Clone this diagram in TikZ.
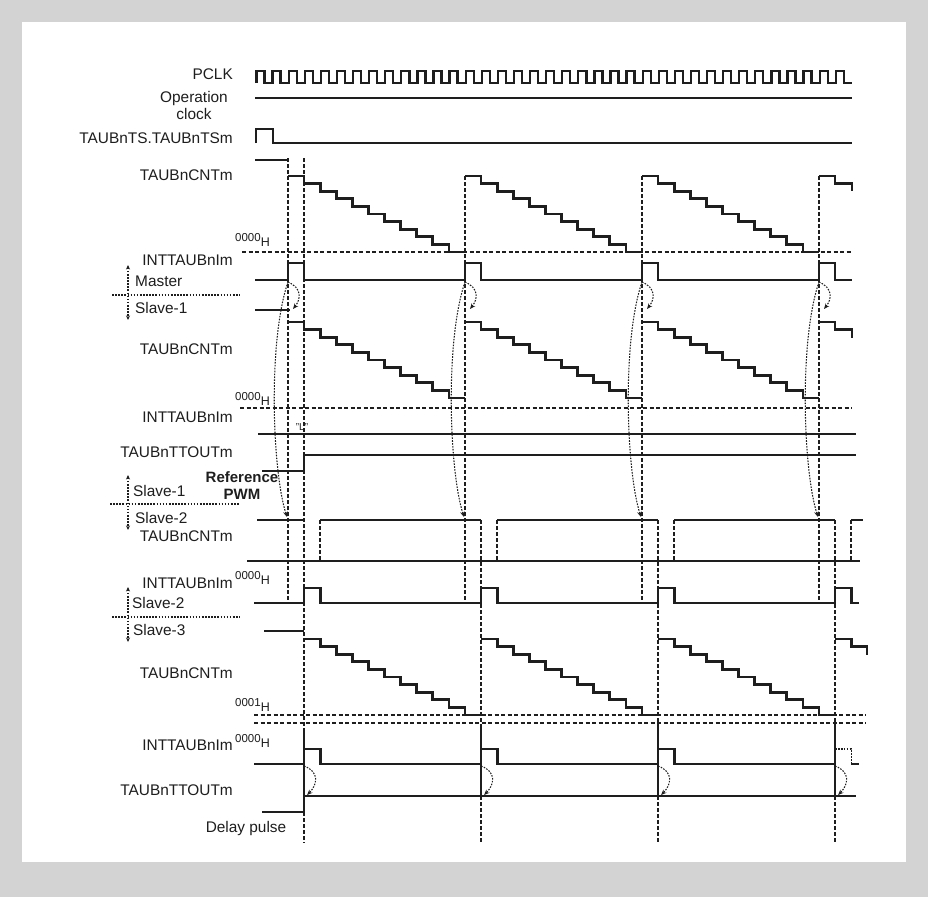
\documentclass[tikz,border=0pt]{standalone}
\usepackage{fontspec}
\setmainfont{Liberation Sans}
\usetikzlibrary{arrows.meta}
\definecolor{bggray}{HTML}{D3D3D3}
\definecolor{ink}{HTML}{1E1E1E}
\newcommand{\hexlbl}[1]{{\fontsize{11.5}{12}\selectfont #1}\raisebox{-5pt}{\fontsize{12.5}{13}\selectfont H}}
\begin{document}
\begin{tikzpicture}[x=1pt,y=-1pt,
  wave/.style={draw=ink,line width=2.7pt,line join=miter},
  vdash/.style={draw=ink,line width=1.9pt,dash pattern=on 3.5pt off 2.5pt},
  hdash/.style={draw=ink,line width=1.9pt,dash pattern=on 4pt off 2.5pt},
  curv/.style={draw=ink,line width=1.05pt,dash pattern=on 1.6pt off 1.3pt,-{Stealth[length=5.5pt,width=4.5pt]}},
  dotpulse/.style={draw=ink,line width=1.2pt,dash pattern=on 1.6pt off 1.3pt},
  lbl/.style={font=\fontsize{15.4}{17}\selectfont,inner sep=0pt,text=ink},
  sep/.style={draw=ink,line width=1.1pt,dash pattern=on 1.6pt off 1.5pt},
  vtip/.style={sep,{Stealth[length=4.5pt,width=4pt]}-{Stealth[length=4.5pt,width=4pt]}},
  ]
\def\W{16.09}
\def\P{177}
% background
\fill[bggray] (0,0) rectangle (928,897);
\fill[white] (22,22) rectangle (906,862);
\useasboundingbox (0,0) rectangle (928,897);

% ---------- labels ----------
\node[lbl,anchor=base east] (lpclk) at (233,79) {PCLK};
\node[lbl,anchor=base] (lop1) at (194,102) {Operation};
\node[lbl,anchor=base] (lop2) at (194,119) {clock};
\node[lbl,anchor=base east] (lts) at (233,143) {TAUBnTS.TAUBnTSm};
\node[lbl,anchor=base east] (lcnt1) at (233,180) {TAUBnCNTm};
\node[lbl,anchor=base west] (lz1) at (235,241) {\hexlbl{0000}};
\node[lbl,anchor=base east] (lint1) at (233,265) {INTTAUBnIm};
\node[lbl,anchor=base west] (lmas) at (135,286) {Master};
\node[lbl,anchor=base west] (ls1a) at (135,313) {Slave-1};
\node[lbl,anchor=base east] (lcnt2) at (233,354) {TAUBnCNTm};
\node[lbl,anchor=base west] (lz2) at (235,400) {\hexlbl{0000}};
\node[lbl,anchor=base east] (lint2) at (233,422) {INTTAUBnIm};
\node[lbl,anchor=base,font=\fontsize{10}{11}\selectfont] (lL) at (302,430) {"L"};
\node[lbl,anchor=base east] (lto1) at (233,457) {TAUBnTTOUTm};
\node[lbl,anchor=base,font=\fontsize{15}{17}\selectfont\bfseries] (lref) at (242,482) {Reference};
\node[lbl,anchor=base,font=\fontsize{15}{17}\selectfont\bfseries] (lpwm) at (242,499) {PWM};
\node[lbl,anchor=base west] (ls1b) at (133,496) {Slave-1};
\node[lbl,anchor=base west] (ls2a) at (135,523) {Slave-2};
\node[lbl,anchor=base east] (lcnt3) at (233,541) {TAUBnCNTm};
\node[lbl,anchor=base east] (lint3) at (233,588) {INTTAUBnIm};
\node[lbl,anchor=base west] (lz3) at (235,579) {\hexlbl{0000}};
\node[lbl,anchor=base west] (ls2b) at (132,608) {Slave-2};
\node[lbl,anchor=base west] (ls3) at (133,635) {Slave-3};
\node[lbl,anchor=base east] (lcnt4) at (233,678) {TAUBnCNTm};
\node[lbl,anchor=base west] (lz4) at (235,706) {\hexlbl{0001}};
\node[lbl,anchor=base west] (lz5) at (235,742) {\hexlbl{0000}};
\node[lbl,anchor=base east] (lint4) at (233,750) {INTTAUBnIm};
\node[lbl,anchor=base east] (lto2) at (233,795) {TAUBnTTOUTm};
\node[lbl,anchor=base] (ldel) at (246,832) {Delay pulse};

% left separators and arrows
\draw[sep] (112,295) -- (240,295);
\draw[vtip] (128,265) -- (128,320);
\draw[sep] (110,504) -- (240,504);
\draw[vtip] (128,475) -- (128,530);
\draw[sep] (112,617) -- (240,617);
\draw[vtip] (128,587) -- (128,642);

% ---------- long dashed verticals ----------
\draw[vdash] (288,158) -- (288,603);
\foreach \k in {1,2,3}{\draw[vdash] ({288+\P*\k},176) -- ({288+\P*\k},603);}
\draw[vdash] ({288+\W},158) -- ({288+\W},843);
\foreach \k in {1,2,3}{\draw[vdash] ({288+\W+\P*\k},520) -- ({288+\W+\P*\k},843);}
\foreach \k in {0,...,3}{\draw[vdash] ({288+2*\W+\P*\k},520) -- ({288+2*\W+\P*\k},561);}

% ---------- zero lines ----------
\draw[hdash] (242,252) -- (852,252);
\draw[hdash] (240,408) -- (852,408);
\draw[hdash] (254,715) -- (866,715);
\draw[hdash] (254,723) -- (866,723);

% ---------- PCLK ----------
\draw[wave,line width=2.3pt] (256.5,83) \foreach \i in {0,...,36}{ -- ++(0,-12) -- ++(\W/2,0) -- ++(0,12) -- ++(\W/2,0)};
% operation clock
\draw[wave] (255,98) -- (852,98);
% TS
\draw[wave] (256,143) -- (256,129) -- (273,129) -- (273,143) -- (852,143);

% ---------- master counter ----------
\draw[wave] (255,160) -- (288,160);
\foreach \k in {0,1,2}{
  \draw[wave] ({288+\P*\k},176) \foreach \i in {1,...,10}{ -- ++(\W,0) -- ++(0,7.6)} -- ++(\W,0);
}
\draw[wave] (819,176) -- ++(\W,0) -- ++(0,7.6) -- (852,183.6) -- (852,191);

% master INT
\draw[wave] (255,280) \foreach \k in {0,...,3}{ -- ({288+\P*\k},280) -- ++(0,-17) -- ++(\W,0) -- ++(0,17)} -- (852,280);

% ---------- slave-1 counter ----------
\draw[wave] (255,310) -- (290,310);
\foreach \k in {0,1,2}{
  \draw[wave] ({288+\P*\k},322) \foreach \i in {1,...,10}{ -- ++(\W,0) -- ++(0,7.6)} -- ++(\W,0);
}
\draw[wave] (819,322) -- ++(\W,0) -- ++(0,7.6) -- (852,329.6) -- (852,338);

% slave-1 INT and TTOUT
\draw[wave] (258,434) -- (856,434);
\draw[wave] (262,471) -- ({288+\W},471) -- ({288+\W},455) -- (856,455);

% ---------- slave-2 counter ----------
\draw[wave] (247,561) -- (860,561);
\draw[wave] (257,520) -- ({288+\W},520);
\foreach \k in {0,1,2}{
  \draw[wave] ({288+2*\W+\P*\k},520) -- ({288+\W+\P*(\k+1)},520);
}
\draw[wave] ({288+2*\W+\P*3},520) -- (863,520);

% slave-2 INT
\draw[wave] (254,603) \foreach \k in {0,...,3}{ -- ({288+\W+\P*\k},603) -- ++(0,-15) -- ++(\W,0) -- ++(0,15)} -- (859,603);

% ---------- slave-3 counter ----------
\draw[wave] (264,631) -- ({288+\W},631);
\foreach \k in {0,1,2}{
  \draw[wave] ({288+\W+\P*\k},639) \foreach \i in {1,...,10}{ -- ++(\W,0) -- ++(0,7.6)} -- ++(\W,0);
}
\draw[wave] ({288+\W+\P*3},639) -- ++(\W,0) -- ++(0,7.6) -- (867,646.6) -- (867,655);

% slave-3 INT
\draw[wave] (254,764) \foreach \k in {0,1,2}{ -- ({288+\W+\P*\k},764) -- ++(0,-15) -- ++(\W,0) -- ++(0,15)} -- ({288+\W+\P*3},764);
\draw[dotpulse] ({288+\W+\P*3},749) -- ++(\W,0) -- ++(0,15);
\draw[wave] ({288+2*\W+\P*3},764) -- (859,764);
\foreach \k in {0,...,3}{\draw[wave] ({288+\W+\P*\k},728) -- ({288+\W+\P*\k},796);}
% slave-3 TTOUT
\draw[wave] (262,812) -- ({288+\W},812) -- ({288+\W},796) -- (856,796);

% ---------- curved arrows ----------
\foreach \k in {0,...,3}{
  \coordinate (ma\k) at ({288+\P*\k},282);
  \coordinate (sa\k) at ({293+\P*\k},309);
  \coordinate (sb\k) at ({287+\P*\k},517);
  \coordinate (tc\k) at ({288+\W+\P*\k},766);
  \coordinate (td\k) at ({291+\W+\P*\k},795);
  \draw[curv] (ma\k) .. controls +(14,6) and +(8,-10) .. (sa\k);
  \draw[curv] (ma\k) .. controls +(-20,58) and +(-15,-47) .. (sb\k);
  \draw[curv] (tc\k) .. controls +(16,6) and +(10,-10) .. (td\k);
}
\end{tikzpicture}
\end{document}
